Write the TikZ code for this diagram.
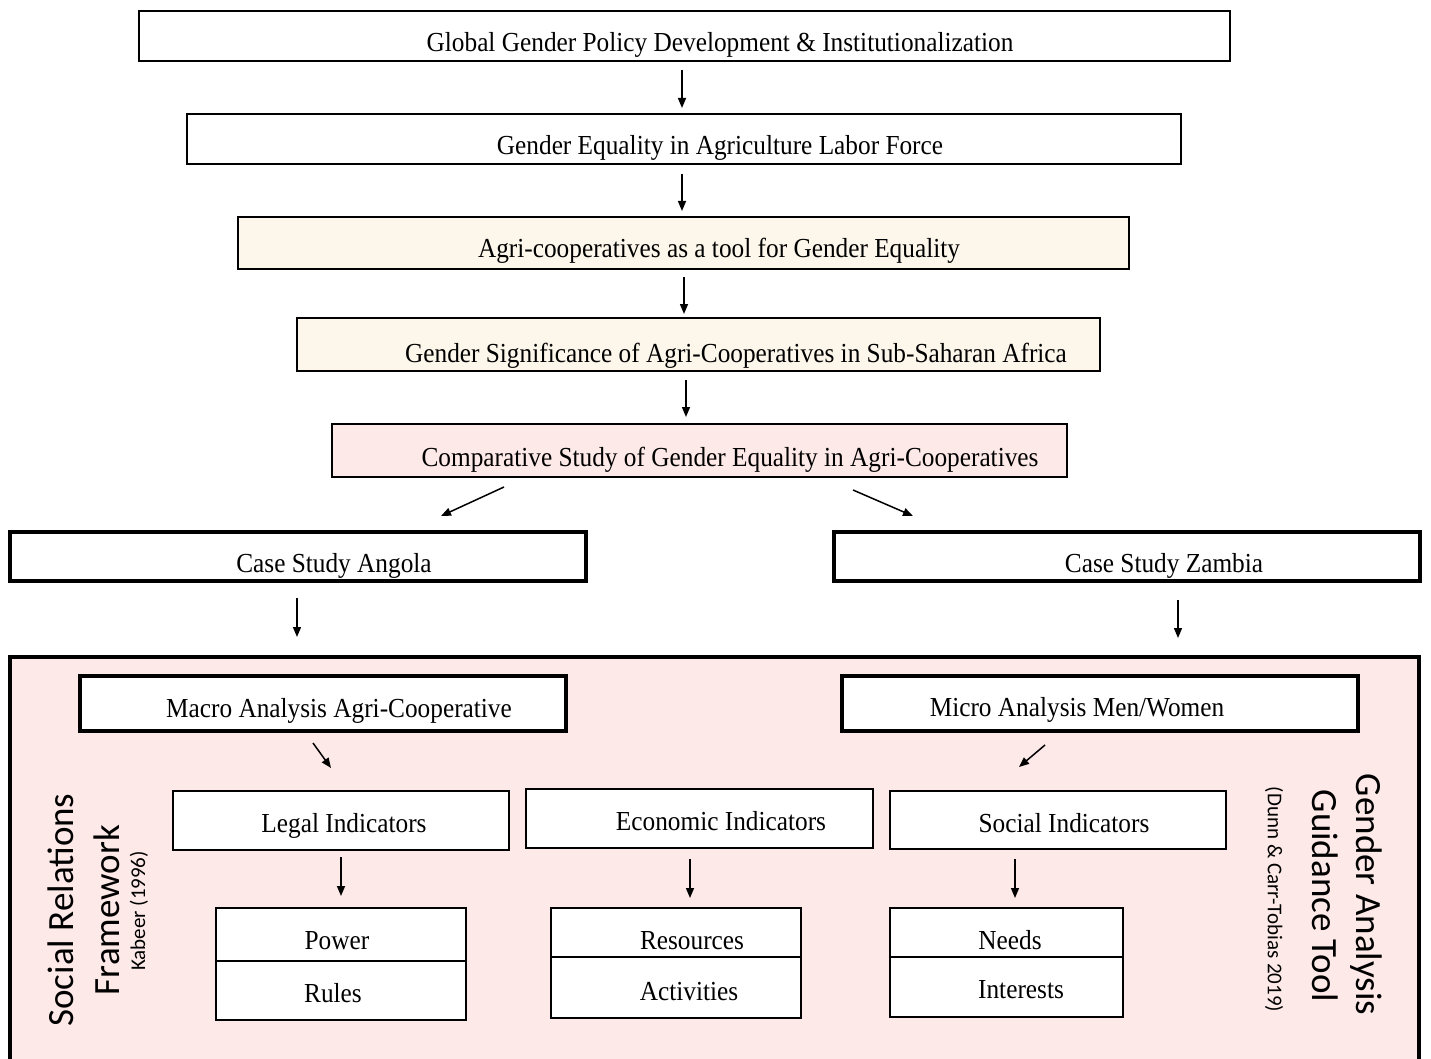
\documentclass[tikz,border=0pt]{standalone}
\usepackage{fontspec}
\setmainfont{Liberation Serif}[FakeStretch=0.92]
\newfontfamily\carl{Carlito}
\usetikzlibrary{arrows.meta}
\definecolor{creamfill}{RGB}{253,246,234}
\definecolor{pinkfill}{RGB}{253,233,231}
\tikzset{
  box/.style={draw, line width=1.5pt, fill=white, inner sep=0pt, outer sep=0pt},
  tbox/.style={box, line width=4.5pt},
  lbl/.style={anchor=base, inner sep=0pt, font=\fontsize{27.5}{33}\selectfont},
  arr/.style={line width=1.5pt, -{Triangle[length=10pt,width=8pt]}},
  side/.style={font=\carl\fontsize{37}{44}\selectfont, inner sep=0pt},
  sidesmall/.style={font=\carl\fontsize{21}{25}\selectfont, inner sep=0pt}
}
\begin{document}
\begin{tikzpicture}[x=1pt,y=-1pt]
\useasboundingbox (0,0) rectangle (1431,1059);
\fill[white] (0,0) rectangle (1431,1059);
\clip (0,0) rectangle (1431,1059);

% big framework box
\node[tbox, fill=pinkfill, minimum width=1409pt, minimum height=423pt] (big) at (714.5,868.5) {};

% top chain
\node[box, minimum width=1091pt, minimum height=50pt] (b1) at (684.5,36) {};
\node[lbl] (t1) at (720,52) {Global Gender Policy Development \& Institutionalization};
\node[box, minimum width=994pt, minimum height=50pt] (b2) at (684,139) {};
\node[lbl] (t2) at (720,155) {Gender Equality in Agriculture Labor Force};
\node[box, fill=creamfill, minimum width=891pt, minimum height=52pt] (b3) at (683.5,243) {};
\node[lbl] (t3) at (719,258) {Agri-cooperatives as a tool for Gender Equality};
\node[box, fill=creamfill, minimum width=803pt, minimum height=53pt] (b4) at (698.5,344.5) {};
\node[lbl] (t4) at (736,362) {Gender Significance of Agri-Cooperatives in Sub-Saharan Africa};
\node[box, fill=pinkfill, minimum width=735pt, minimum height=53pt] (b5) at (699.5,450.5) {};
\node[lbl] (t5) at (730,466) {Comparative Study of Gender Equality in Agri-Cooperatives};

% case studies
\node[tbox, minimum width=576pt, minimum height=49pt] (ang) at (298,556.5) {};
\node[lbl] (tang) at (334,572) {Case Study Angola};
\node[tbox, minimum width=586pt, minimum height=49pt] (zam) at (1127,556.5) {};
\node[lbl] (tzam) at (1164,572) {Case Study Zambia};

% macro / micro
\node[tbox, minimum width=486pt, minimum height=55pt] (mac) at (323,703.5) {};
\node[lbl] (tmac) at (339,717) {Macro Analysis Agri-Cooperative};
\node[tbox, minimum width=516pt, minimum height=55pt] (mic) at (1100,703.5) {};
\node[lbl] (tmic) at (1077,716) {Micro Analysis Men/Women};

% indicators
\node[box, minimum width=336pt, minimum height=59pt] (leg) at (341,820.5) {};
\node[lbl] (tleg) at (344,832) {Legal Indicators};
\node[box, minimum width=347pt, minimum height=59pt] (eco) at (699.5,818.5) {};
\node[lbl] (teco) at (721,830) {Economic Indicators};
\node[box, minimum width=336pt, minimum height=58pt] (soc) at (1058,820) {};
\node[lbl] (tsoc) at (1064,832) {Social Indicators};

% split boxes
\node[box, minimum width=250pt, minimum height=53pt] (pow) at (341,934.5) {};
\node[box, minimum width=250pt, minimum height=59pt] (rul) at (341,990.5) {};
\node[lbl] (tpow) at (337,949) {Power};
\node[lbl] (trul) at (333,1002) {Rules};
\node[box, minimum width=250pt, minimum height=49pt] (res) at (676,932.5) {};
\node[box, minimum width=250pt, minimum height=61pt] (act) at (676,987.5) {};
\node[lbl] (tres) at (692,949) {Resources};
\node[lbl] (tact) at (689,1000) {Activities};
\node[box, minimum width=233pt, minimum height=49pt] (nee) at (1006.5,932.5) {};
\node[box, minimum width=233pt, minimum height=60pt] (int) at (1006.5,987) {};
\node[lbl] (tnee) at (1010,949) {Needs};
\node[lbl] (tint) at (1021,998) {Interests};

% side labels
\node[side, rotate=90] (srf1) at (61,910) {Social Relations};
\node[side, rotate=90] (srf2) at (107,910) {Framework};
\node[sidesmall, rotate=90] (srf3) at (139,911) {Kabeer (1996)};
\node[side, rotate=-90] (gat1) at (1366,894.5) {Gender Analysis};
\node[side, rotate=-90] (gat2) at (1325,896) {Guidance Tool};
\node[sidesmall, rotate=-90] (gat3) at (1274,899.5) {(Dunn \& Carr-Tobias 2019)};

% arrows
\draw[arr] ([xshift=-2.5pt,yshift=-9pt]b1.south) -- ([xshift=-2pt,yshift=6pt]b2.north);
\draw[arr] ([xshift=-2pt,yshift=-10pt]b2.south) -- ([xshift=-1.5pt,yshift=6pt]b3.north);
\draw[arr] ([xshift=0.5pt,yshift=-8pt]b3.south) -- ([xshift=-14.5pt,yshift=4pt]b4.north);
\draw[arr] ([xshift=-12.5pt,yshift=-9pt]b4.south) -- ([xshift=-13.5pt,yshift=7pt]b5.north);
\draw[arr] ([xshift=-195.5pt,yshift=-10pt]b5.south) -- ([xshift=143pt,yshift=16pt]ang.north);
\draw[arr] ([xshift=153.5pt,yshift=-13pt]b5.south) -- ([xshift=-214pt,yshift=16pt]zam.north);
\draw[arr] ([xshift=-1pt,yshift=-17pt]ang.south) -- ([xshift=-417.5pt,yshift=20pt]big.north);
\draw[arr] ([xshift=51pt,yshift=-19pt]zam.south) -- ([xshift=463.5pt,yshift=19pt]big.north);
\draw[arr] ([xshift=-10pt,yshift=-12pt]mac.south) -- ([xshift=-10pt,yshift=23pt]leg.north);
\draw[arr] ([xshift=-55pt,yshift=-14pt]mic.south) -- ([xshift=-39pt,yshift=24pt]soc.north);
\draw[arr] ([yshift=-7pt]leg.south) -- ([yshift=12pt]pow.north);
\draw[arr] ([xshift=-9.5pt,yshift=-11pt]eco.south) -- ([xshift=14pt,yshift=10pt]res.north);
\draw[arr] ([xshift=-43pt,yshift=-10pt]soc.south) -- ([xshift=8.5pt,yshift=10pt]nee.north);
\end{tikzpicture}
\end{document}
